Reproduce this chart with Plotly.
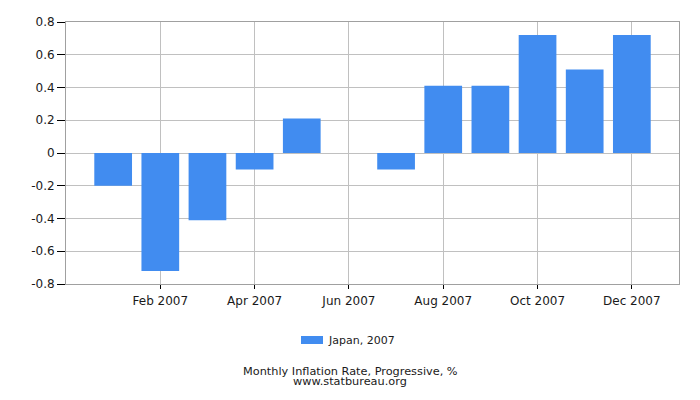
import plotly.graph_objects as go

# --- Data ---
months = ["Jan 2007", "Feb 2007", "Mar 2007", "Apr 2007", "May 2007", "Jun 2007",
          "Jul 2007", "Aug 2007", "Sep 2007", "Oct 2007", "Nov 2007", "Dec 2007"]
inflation = [-0.20, -0.72, -0.41, -0.10, 0.21, 0.00,
             -0.10, 0.41, 0.41, 0.72, 0.51, 0.72]
tick_months = ["Feb 2007", "Apr 2007", "Jun 2007", "Aug 2007", "Oct 2007", "Dec 2007"]
y_ticks = [-0.8, -0.6, -0.4, -0.2, 0, 0.2, 0.4, 0.6, 0.8]
y_tick_text = ["-0.8", "-0.6", "-0.4", "-0.2", "0", "0.2", "0.4", "0.6", "0.8"]
series_name = "Japan, 2007"
caption_lines = ["Monthly Inflation Rate, Progressive, %", "www.statbureau.org"]

# --- Style ---
BAR_COLOR = "#418CF0"
GRID_COLOR = "#C0C0C0"
AXIS_COLOR = "#A0A0A0"
FONT_FAMILY = "DejaVu Sans, Verdana, sans-serif"
TEXT_COLOR = "#1a1a1a"

# plot area in pixels (page is 700x400)
L, R, T, B = 66, 679, 22, 284


def px_x(x):
    return (x - L) / (R - L)


def px_y(y):
    return (B - y) / (B - T)


fig = go.Figure()

fig.add_trace(go.Bar(
    x=months,
    y=inflation,
    name=series_name,
    marker=dict(color=BAR_COLOR, line=dict(width=0)),
    width=0.8,
    showlegend=False,
))

fig.update_layout(
    width=700,
    height=400,
    paper_bgcolor="white",
    plot_bgcolor="white",
    font=dict(family=FONT_FAMILY, size=12, color=TEXT_COLOR),
    margin=dict(l=L, r=700 - R, t=T, b=400 - B, pad=0),
    bargap=0.2,
)

fig.update_xaxes(
    type="category",
    categoryorder="array",
    categoryarray=months,
    range=[-1, 12],
    tickmode="array",
    tickvals=tick_months,
    ticktext=tick_months,
    ticks="outside",
    ticklen=4,
    tickcolor="#000",
    ticklabelstandoff=2,
    showgrid=True,
    gridcolor=GRID_COLOR,
    gridwidth=1,
    showline=True,
    linecolor=AXIS_COLOR,
    linewidth=1,
    mirror=True,
    zeroline=False,
    tickfont=dict(size=12, color=TEXT_COLOR),
)

fig.update_yaxes(
    range=[-0.8, 0.8],
    tickmode="array",
    tickvals=y_ticks,
    ticktext=y_tick_text,
    ticks="outside",
    ticklen=8,
    tickcolor="#000",
    showgrid=True,
    gridcolor=GRID_COLOR,
    gridwidth=1,
    showline=True,
    linecolor=AXIS_COLOR,
    linewidth=1,
    mirror=True,
    zeroline=True,
    zerolinecolor=GRID_COLOR,
    zerolinewidth=1,
    tickfont=dict(size=12, color=TEXT_COLOR),
)

# Legend drawn as a swatch plus label, matching the wide swatch of the original
fig.add_shape(
    type="rect", xref="paper", yref="paper",
    x0=px_x(301), x1=px_x(323),
    y0=px_y(344), y1=px_y(336),
    fillcolor=BAR_COLOR, line=dict(width=0),
)
fig.add_annotation(
    text=series_name, xref="paper", yref="paper",
    x=px_x(326), y=px_y(340.5),
    xanchor="left", yanchor="middle", showarrow=False,
    font=dict(size=11, color=TEXT_COLOR),
)

# Caption (two tight lines)
for line, y in zip(caption_lines, [371.5, 381.5]):
    fig.add_annotation(
        text=line, xref="paper", yref="paper",
        x=px_x(350), y=px_y(y),
        xanchor="center", yanchor="middle", showarrow=False,
        font=dict(size=11.3, color=TEXT_COLOR),
    )

fig.write_html(
    "out.html",
    config={"displayModeBar": False},
    post_script="document.body.style.margin='0';",
)
